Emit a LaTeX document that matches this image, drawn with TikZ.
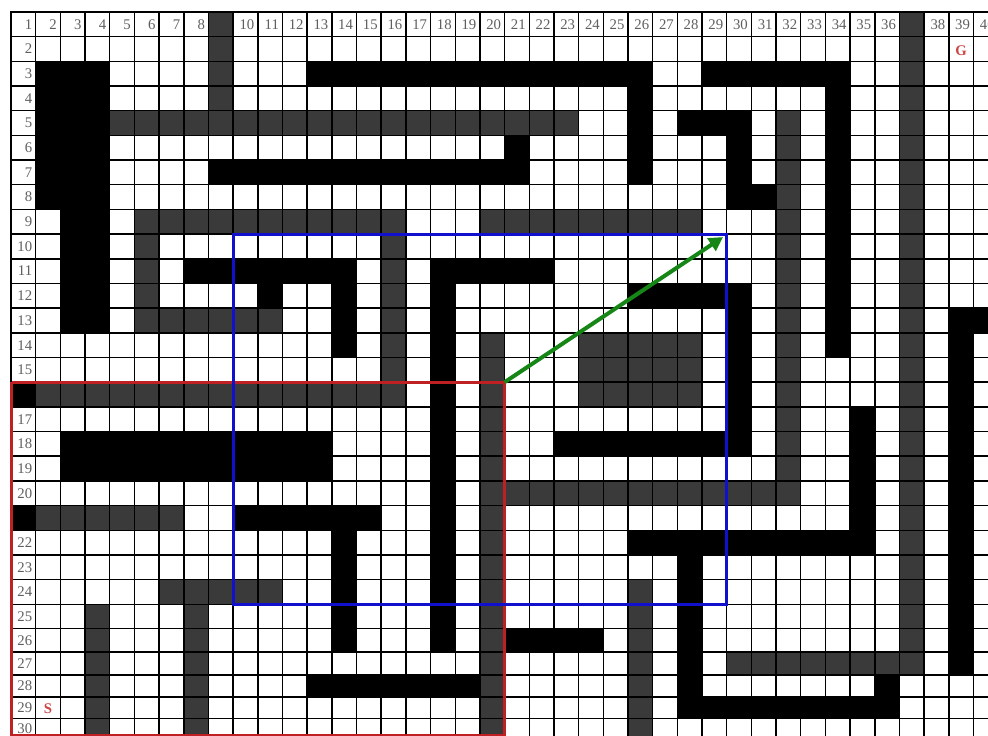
\documentclass[tikz,border=0pt]{standalone}
\usepackage{fontspec}
\setmainfont{Liberation Serif}
\usetikzlibrary{arrows.meta}
\definecolor{darkcell}{RGB}{58,58,58}
\definecolor{labgray}{RGB}{95,95,95}
\definecolor{boxred}{RGB}{190,32,36}
\definecolor{boxblue}{RGB}{16,16,205}
\definecolor{arrgreen}{RGB}{22,135,22}
\definecolor{sgred}{RGB}{205,70,70}
\begin{document}
\begin{tikzpicture}[x=0.5cm,y=-0.5cm,
  declare function={ry(\r)=\r-0.015*(max(\r-24,0))^2;},
  lab/.style={font=\fontsize{8.5}{9}\selectfont, text=labgray, inner sep=0pt, anchor=east},
  sglabel/.style={font=\bfseries\fontsize{8.5}{9}\selectfont, text=sgred, inner sep=0pt},
  gridline/.style={line width=0.85pt, black},
  redbox/.style={draw=boxred, line width=1.7pt},
  bluebox/.style={draw=boxblue, line width=1.7pt},
  greenarrow/.style={draw=arrgreen, line width=2.3pt, -{Triangle[length=8pt,width=8.5pt]}}
]
\useasboundingbox (-0.446,-0.486) rectangle (39.587,29.336);
\clip (-0.446,-0.486) rectangle (39.587,29.336);
\fill[white] (-0.446,-0.486) rectangle (39.587,29.336);
% dark gray walls
\foreach \a/\b/\c/\d in {9/1/9/5, 5/5/23/5, 6/9/16/9, 6/9/6/13, 6/13/11/13, 16/9/16/16,
  2/16/16/16, 20/9/28/9, 32/5/32/20, 21/20/32/20, 20/14/20/30, 24/14/28/16,
  37/1/37/27, 30/27/37/27, 2/21/7/21, 7/24/11/24, 4/25/4/30, 8/25/8/30, 26/24/26/30}
  \fill[darkcell] ({\a-1},{ry(\b-1)}) rectangle (\c,{ry(\d)});
% black walls
\foreach \a/\b/\c/\d in {2/3/4/8, 3/9/4/13, 13/3/26/3, 26/3/26/7, 9/7/21/7, 21/6/21/7,
  29/3/34/3, 34/3/34/14, 28/5/30/5, 30/5/30/8, 30/8/31/8, 8/11/14/11, 11/12/11/12,
  14/11/14/14, 18/11/22/11, 18/11/18/26, 26/12/30/12, 30/12/30/18, 23/18/30/18,
  1/16/1/16, 3/18/13/19, 1/21/1/21, 10/21/15/21, 14/21/14/26, 21/26/24/26,
  13/28/19/28, 35/17/35/22, 26/22/35/22, 28/22/28/29, 28/29/36/29, 36/28/36/29,
  39/13/40/13, 39/13/39/27}
  \fill[black] ({\a-1},{ry(\b-1)}) rectangle (\c,{ry(\d)});
% grid
\foreach \k in {0,...,30} \draw[gridline] (0,{ry(\k)}) -- (40,{ry(\k)});
\foreach \k in {0,...,40} \draw[gridline] (\k,0) -- (\k,{ry(30)});
\draw[line width=1.4pt] (0,0) rectangle (40,{ry(30)});
% column numbers
\foreach \c in {1,...,8} \node[lab] (col\c) at (\c-0.13,0.5) {\c};
\foreach \c in {10,...,36} \node[lab] (col\c) at (\c-0.13,0.5) {\c};
\foreach \c in {38,39,40} \node[lab] (col\c) at (\c-0.13,0.5) {\c};
% row numbers
\foreach \r in {2,...,15} \node[lab] (row\r) at (0.87,{(ry(\r-1)+ry(\r))/2}) {\r};
\foreach \r in {17,...,20} \node[lab] (row\r) at (0.87,{(ry(\r-1)+ry(\r))/2}) {\r};
\foreach \r in {22,...,30} \node[lab] (row\r) at (0.87,{(ry(\r-1)+ry(\r))/2}) {\r};
% start and goal
\node[sglabel] (goal) at (38.5,1.55) {G};
\node[sglabel] (start) at (1.5,{(ry(28)+ry(29))/2+0.05}) {S};
% boxes
\draw[redbox] (0.03,15) -- (20,15) -- (20,29.4);
\draw[redbox] (0.03,15) -- (0.03,29.4);
\draw[redbox] (0,29.3) -- (20,29.3);
\draw[bluebox] (9,9) rectangle (29,24);
% arrow
\coordinate (redcorner) at (20,15);
\coordinate (bluetip) at (28.85,9.12);
\draw[greenarrow] (redcorner) -- (bluetip);
\end{tikzpicture}
\end{document}
